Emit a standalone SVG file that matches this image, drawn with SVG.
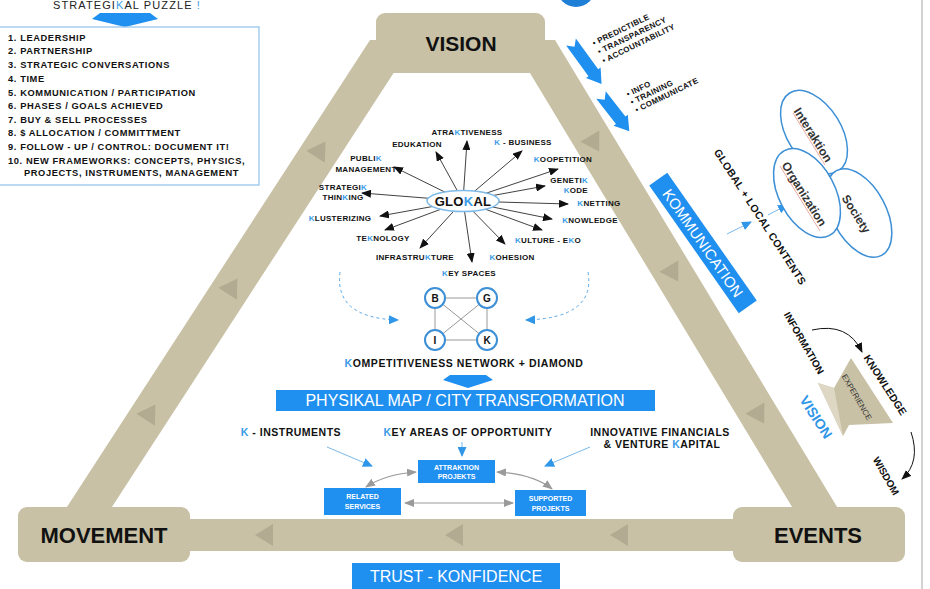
<svg xmlns="http://www.w3.org/2000/svg" width="930" height="589" viewBox="0 0 930 589">
<style>
.tan{fill:#c8c1a5}
.tri{fill:#b3ab91}
.bl{fill:#1f8ff0}
.t{font-family:"Liberation Sans",Arial,sans-serif;font-weight:bold;fill:#111}
.k{fill:#3a9be6}
.lst{font-size:9.3px;letter-spacing:0.6px}
.gl{font-size:8px;letter-spacing:0.3px;text-anchor:middle}
.big{font-size:22px;text-anchor:middle}
.w{font-family:"Liberation Sans",Arial,sans-serif;fill:#fff;text-anchor:middle}
.sb{font-family:"Liberation Sans",Arial,sans-serif;font-weight:bold;fill:#fff;text-anchor:middle;font-size:7px}
.ar{stroke:#111;stroke-width:0.8;fill:none;marker-end:url(#ah)}
.ba{stroke:#7ab8e8;stroke-width:1;fill:none;marker-end:url(#ahb)}
.ga{stroke:#9a9a9a;stroke-width:1.2;fill:none;marker-start:url(#ahg);marker-end:url(#ahg)}
.ell{fill:#fff;stroke:#3d8fd6;stroke-width:1.5}
.cir{fill:#fff;stroke:#3d8fd6;stroke-width:2}
</style>
<defs>
<marker id="ah" markerUnits="userSpaceOnUse" markerWidth="10" markerHeight="8" refX="9" refY="4" orient="auto"><path d="M0,0 L10,4 L0,8 Z" fill="#111"/></marker>
<marker id="ahb" markerUnits="userSpaceOnUse" markerWidth="10" markerHeight="9" refX="9" refY="4.5" orient="auto"><path d="M0,0 L10,4.5 L0,9 Z" fill="#2f96e8"/></marker>
<marker id="ahg" markerUnits="userSpaceOnUse" markerWidth="10" markerHeight="8" refX="9" refY="4" orient="auto-start-reverse"><path d="M0,0 L10,4 L0,8 Z" fill="#9a9a9a"/></marker>
<path id="tr" d="M0,-10 L11,8 L-11,8 Z"/>
</defs>
<rect width="930" height="589" fill="#fff"/>
<line x1="922" y1="0" x2="922" y2="589" stroke="#c4c4c4" stroke-width="1.5"/>
<circle cx="576" cy="-12" r="19" fill="#1f7fd6"/>

<!-- triangle frame -->
<g id="frame">
<polygon class="tan" points="370,40 415,40 97,530 52,530"/>
<polygon class="tan" points="510,40 555,40 851,530 806,530"/>
<rect class="tan" x="150" y="519" width="640" height="32"/>
<use href="#tr" class="tri" transform="translate(320,150) rotate(33)"/>
<use href="#tr" class="tri" transform="translate(232,287) rotate(33)"/>
<use href="#tr" class="tri" transform="translate(150,413) rotate(33)"/>
<use href="#tr" class="tri" transform="translate(594,143) rotate(149)"/>
<use href="#tr" class="tri" transform="translate(673,273) rotate(149)"/>
<use href="#tr" class="tri" transform="translate(759,415) rotate(149)"/>
<use href="#tr" class="tri" transform="translate(265,535) rotate(-90)"/>
<use href="#tr" class="tri" transform="translate(455,535) rotate(-90)"/>
<use href="#tr" class="tri" transform="translate(620,535) rotate(-90)"/>
</g>
<g id="vision"><rect class="tan" x="376" y="13" width="169" height="60" rx="9"/><text class="t big" x="461" y="51" style="font-size:21px">VISION</text></g>
<g id="movement"><rect class="tan" x="18" y="507" width="172" height="55" rx="9"/><text class="t big" x="104" y="543">MOVEMENT</text></g>
<g id="events"><rect class="tan" x="733" y="507" width="172" height="55" rx="9"/><text class="t big" x="818" y="543">EVENTS</text></g>

<!-- puzzle list -->
<g id="puzzle">
<text class="t" x="53" y="9" style="font-size:11px;font-weight:normal;letter-spacing:1.1px;fill:#222">STRATEGI<tspan class="k">K</tspan>AL PUZZLE <tspan class="k">!</tspan></text>
<polygon class="bl" points="100,13 150,13 158,19 125,27 92,19"/>
<rect x="-1" y="27" width="260" height="158" fill="#fff" stroke="#8ec0ea" stroke-width="1.2"/>
<g class="t lst">
<text x="8" y="41">1. LEADERSHIP</text>
<text x="8" y="54">2. PARTNERSHIP</text>
<text x="8" y="68">3. STRATEGIC CONVERSATIONS</text>
<text x="8" y="82">4. TIME</text>
<text x="8" y="96">5. KOMMUNICATION / PARTICIPATION</text>
<text x="8" y="109">6. PHASES / GOALS ACHIEVED</text>
<text x="8" y="123">7. BUY &amp; SELL PROCESSES</text>
<text x="8" y="136">8. $ ALLOCATION / COMMITTMENT</text>
<text x="8" y="150">9. FOLLOW - UP / CONTROL: DOCUMENT IT!</text>
<text x="8" y="164">10. NEW FRAMEWORKS: CONCEPTS, PHYSICS,</text>
<text x="24" y="176">PROJECTS, INSTRUMENTS, MANAGEMENT</text>
</g>
</g>

<!-- top right arrows and bullets -->
<g id="trust-notes">
<polygon class="bl" transform="translate(571,42) rotate(54)" points="0,-6 38,-6 38,-9 52,0 38,9 38,6 0,6 6,0"/>
<polygon class="bl" transform="translate(601,95) rotate(52)" points="0,-6 32,-6 32,-9 46,0 32,9 32,6 0,6 6,0"/>
<g class="t" style="font-size:8px;letter-spacing:0.3px" transform="translate(594,46) rotate(-26)">
<text x="0" y="0">• PREDICTIBLE</text>
<text x="1" y="10">• TRANSPARENCY</text>
<text x="1" y="20">• ACCOUNTABILITY</text>
</g>
<g class="t" style="font-size:8px;letter-spacing:0.3px" transform="translate(628,97) rotate(-26)">
<text x="0" y="0">• INFO</text>
<text x="0" y="9">• TRAINING</text>
<text x="1" y="18">• COMMUNICATE</text>
</g>
</g>

<!-- connectors -->
<g id="connectors">
<path class="ar" d="M463,201 L467,141"/>
<path class="ar" d="M463,201 L436,152"/>
<path class="ar" d="M463,201 L522,151"/>
<path class="ar" d="M463,201 L394,167"/>
<path class="ar" d="M463,201 L558,169"/>
<path class="ar" d="M463,201 L362,193"/>
<path class="ar" d="M463,201 L545,186"/>
<path class="ar" d="M463,201 L568,204"/>
<path class="ar" d="M463,201 L380,216"/>
<path class="ar" d="M463,201 L552,219"/>
<path class="ar" d="M463,201 L385,230"/>
<path class="ar" d="M463,201 L542,230"/>
<path class="ar" d="M463,201 L420,248"/>
<path class="ar" d="M463,201 L505,244"/>
<path class="ar" d="M463,201 L472,262"/>
<path d="M340,272 Q334,318 398,320" fill="none" stroke="#5aa8e8" stroke-width="1" stroke-dasharray="3,3" marker-end="url(#ahb)"/>
<path d="M588,272 Q596,318 526,320" fill="none" stroke="#5aa8e8" stroke-width="1" stroke-dasharray="3,3" marker-end="url(#ahb)"/>
<g stroke="#999" stroke-width="1">
<line x1="435" y1="298" x2="487" y2="298"/><line x1="435" y1="340" x2="487" y2="340"/>
<line x1="435" y1="298" x2="435" y2="340"/><line x1="487" y1="298" x2="487" y2="340"/>
<line x1="435" y1="298" x2="487" y2="340"/><line x1="487" y1="298" x2="435" y2="340"/>
</g>
<path class="ba" d="M327,447 L372,466"/>
<path class="ba" d="M462,442 L462,456"/>
<path class="ba" d="M590,447 L545,466"/>
<path class="ga" d="M416,472 Q386,474 366,487"/>
<path class="ga" d="M497,472 Q533,474 552,489"/>
<path class="ga" d="M405,503 L513,503"/>
<path class="ba" d="M727,234 L751,222"/>
<path class="ba" d="M768,215 L787,205"/>
<path d="M812,330 Q848,322 862,352" fill="none" stroke="#111" stroke-width="1" marker-end="url(#ah)"/>
<path d="M911,432 Q921,462 902,479" fill="none" stroke="#111" stroke-width="1" marker-end="url(#ah)"/>
</g>

<!-- GLOKAL labels -->
<g id="glokal-labels" class="t gl">
<text x="467" y="135">ATRA<tspan class="k">K</tspan>TIVENESS</text>
<text x="417" y="147">EDUKATION</text>
<text x="523" y="145"><tspan class="k">K</tspan> - BUSINESS</text>
<text x="366" y="161">PUBLI<tspan class="k">K</tspan></text>
<text x="366" y="172">MANAGEMENT</text>
<text x="563" y="162"><tspan class="k">K</tspan>OOPETITION</text>
<text x="343" y="190">STRATEGI<tspan class="k">K</tspan></text>
<text x="343" y="200">THIN<tspan class="k">K</tspan>ING</text>
<text x="588" y="183" style="text-anchor:end">GENETI<tspan class="k">K</tspan></text>
<text x="588" y="193" style="text-anchor:end"><tspan class="k">K</tspan>ODE</text>
<text x="599" y="206"><tspan class="k">K</tspan>NETTING</text>
<text x="340" y="221"><tspan class="k">K</tspan>LUSTERIZING</text>
<text x="590" y="223"><tspan class="k">K</tspan>NOWLEDGE</text>
<text x="383" y="241">TE<tspan class="k">K</tspan>NOLOGY</text>
<text x="548" y="243"><tspan class="k">K</tspan>ULTURE - E<tspan class="k">K</tspan>O</text>
<text x="415" y="260">INFRASTRU<tspan class="k">K</tspan>TURE</text>
<text x="512" y="260"><tspan class="k">K</tspan>OHESION</text>
<text x="469" y="276"><tspan class="k">K</tspan>EY SPACES</text>
</g>
<g id="glokal">
<ellipse cx="463" cy="201" rx="36" ry="10.5" fill="#fff" stroke="#7fbbe8" stroke-width="1.5"/>
<text class="t" x="463" y="206" style="font-size:13px;letter-spacing:0.3px;text-anchor:middle">GLO<tspan class="k">K</tspan>AL</text>
</g>

<!-- diamond -->
<g id="node-B"><circle class="cir" cx="435" cy="298" r="10"/><text class="t" x="435" y="301.5" style="font-size:10px;text-anchor:middle">B</text></g>
<g id="node-G"><circle class="cir" cx="487" cy="298" r="10"/><text class="t" x="487" y="301.5" style="font-size:10px;text-anchor:middle">G</text></g>
<g id="node-I"><circle class="cir" cx="435" cy="340" r="10"/><text class="t" x="435" y="343.5" style="font-size:10px;text-anchor:middle">I</text></g>
<g id="node-K"><circle class="cir" cx="487" cy="340" r="10"/><text class="t" x="487" y="343.5" style="font-size:10px;text-anchor:middle">K</text></g>
<text class="t" x="464" y="367" style="font-size:10.5px;letter-spacing:0.6px;text-anchor:middle"><tspan class="k">K</tspan>OMPETITIVENESS NETWORK + DIAMOND</text>
<polygon class="bl" points="450,375 486,375 493,380 468,388 443,380"/>
<g id="physikal"><rect class="bl" x="276" y="390" width="379" height="21"/><text class="w" x="465" y="406" style="font-size:16px">PHYSIKAL MAP / CITY TRANSFORMATION</text></g>

<!-- bottom section -->
<g class="t" style="font-size:10.5px;letter-spacing:0.5px;text-anchor:middle">
<text x="291" y="436"><tspan class="k">K</tspan> - INSTRUMENTS</text>
<text x="468" y="436"><tspan class="k">K</tspan>EY AREAS OF OPPORTUNITY</text>
<text x="660" y="436">INNOVATIVE FINANCIALS</text>
<text x="662" y="448">&amp; VENTURE <tspan class="k">K</tspan>APITAL</text>
</g>
<g id="attraktion"><rect class="bl" x="418" y="460" width="77" height="23"/><text class="sb" x="456.5" y="469.5">ATTRAKTION</text><text class="sb" x="456.5" y="479">PROJEKTS</text></g>
<g id="related"><rect class="bl" x="324" y="488" width="77" height="27"/><text class="sb" x="362.5" y="499">RELATED</text><text class="sb" x="362.5" y="509">SERVICES</text></g>
<g id="supported"><rect class="bl" x="515" y="490" width="71" height="26"/><text class="sb" x="550.5" y="501">SUPPORTED</text><text class="sb" x="550.5" y="511">PROJEKTS</text></g>
<g id="trust"><rect class="bl" x="352" y="563" width="208" height="27"/><text class="w" x="456" y="582" style="font-size:16px">TRUST - KONFIDENCE</text></g>

<!-- right side -->
<g id="kommunication" transform="translate(703,243) rotate(55)"><rect class="bl" x="-78" y="-11" width="156" height="22"/><text class="w" x="0" y="5.5" style="font-size:15px">KOMMUNICATION</text></g>
<text class="t" transform="translate(760,217) rotate(57)" x="0" y="3.5" style="font-size:10.5px;letter-spacing:0.3px;text-anchor:middle">GLOBAL + LOCAL CONTENTS</text>
<g id="interaktion"><ellipse class="ell" transform="translate(814,132) rotate(58)" rx="46" ry="27"/></g>
<g id="society"><ellipse class="ell" transform="translate(859,213) rotate(62)" rx="48" ry="27"/></g>
<g id="organization"><ellipse class="ell" transform="translate(807,193) rotate(62)" rx="48" ry="28"/></g>
<g class="t" style="font-size:12px;text-anchor:middle;fill:#333">
<text transform="translate(813,135) rotate(58)" y="4">Interaktion</text>
<text transform="translate(804,194) rotate(58)" y="4">Organization</text>
<text transform="translate(856,214) rotate(58)" y="4">Society</text>
</g>
<g stroke="#d24b4b" stroke-width="0.8" opacity="0.6">
<line x1="793" y1="113" x2="825" y2="165"/>
<line x1="780" y1="166" x2="820" y2="231"/>
</g>
<polygon class="tan" points="851,358 893,423 849,425 843,436 818,383 834,388"/>
<polygon fill="#ddd7c3" points="818,383 834,388 843,436"/>
<g class="t" style="text-anchor:middle">
<text transform="translate(804,343) rotate(60)" y="3.5" style="font-size:10px">INFORMATION</text>
<text transform="translate(885,385) rotate(57)" y="3.5" style="font-size:10.5px">KNOWLEDGE</text>
<text transform="translate(857,397) rotate(60)" y="3" style="font-size:8px;font-weight:normal;fill:#333">EXPERIENCE</text>
<text transform="translate(816,417) rotate(57)" y="5" style="font-size:14px;fill:#2f96e8">VISION</text>
<text transform="translate(886,476) rotate(60)" y="3.5" style="font-size:10px">WISDOM</text>
</g>
</svg>
